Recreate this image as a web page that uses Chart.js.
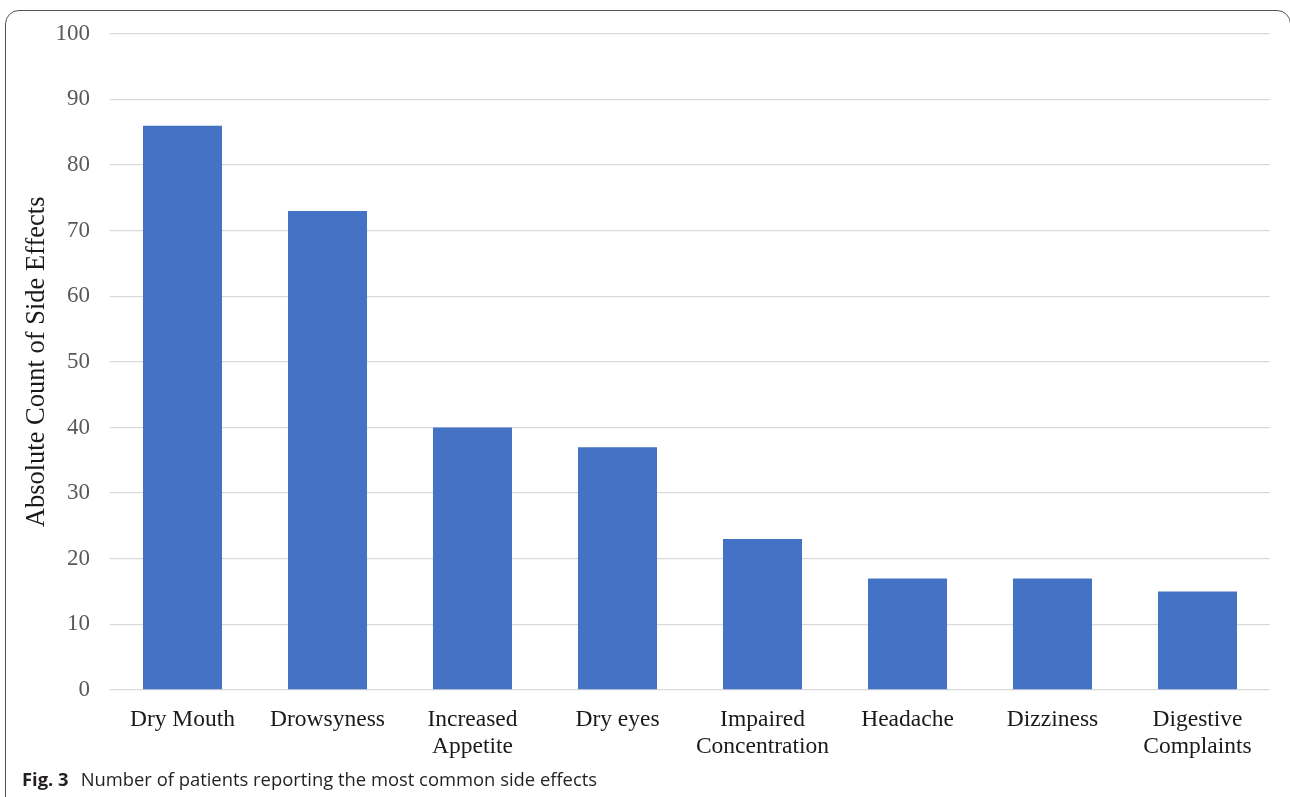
<!DOCTYPE html>
<html>
<head>
<meta charset="utf-8">
<script src="https://cdn.jsdelivr.net/npm/chart.js@4"></script>
<style>
  html, body { margin: 0; padding: 0; background: #fff; overflow: hidden; }
  #page { position: relative; width: 1290px; height: 797px; overflow: hidden; }
  #frame {
    position: absolute; left: 5px; top: 10px; width: 1286px; height: 900px;
    border: 1.5px solid #555; border-radius: 14px; box-sizing: border-box;
  }
  #wrap { position: absolute; left: 0; top: 0; width: 1290px; height: 797px; }
  #caption {
    position: absolute; left: 22px; top: 766px; font-family: "Open Sans", sans-serif;
    font-size: 18.4px; color: #231f20; white-space: nowrap;
  }
  #caption b { font-weight: 700; margin-right: 12px; }
</style>
</head>
<body>
<div id="page">
  <div id="frame"></div>
  <div id="wrap"><canvas id="chart" width="1290" height="797"></canvas></div>
  <div id="caption"><b>Fig. 3</b>Number of patients reporting the most common side effects</div>
</div>
<script>
// Side effects and how many patients reported each
const categories = [
  'Dry Mouth', 'Drowsyness', ['Increased', 'Appetite'], 'Dry eyes',
  ['Impaired', 'Concentration'], 'Headache', 'Dizziness', ['Digestive', 'Complaints']
];
const counts = [86, 73, 40, 37, 23, 17, 17, 15];
const yTicks = [0, 10, 20, 30, 40, 50, 60, 70, 80, 90, 100];
const yTitle = 'Absolute Count of Side Effects';

const serif = '"Liberation Serif", "Times New Roman", serif';

new Chart(document.getElementById('chart'), {
  type: 'bar',
  data: {
    labels: categories,
    datasets: [{
      data: counts,
      backgroundColor: '#4472C4',
      borderWidth: 0,
      barPercentage: 0.545,
      categoryPercentage: 1.0
    }]
  },
  options: {
    responsive: false,
    animation: false,
    layout: { padding: { left: 18, top: 29, right: 20, bottom: 0 } },
    plugins: { legend: { display: false }, tooltip: { enabled: false } },
    scales: {
      x: {
        grid: { display: false, drawTicks: false },
        border: { display: false },
        ticks: {
          color: '#1a1a1a', padding: 16, maxRotation: 0, autoSkip: false,
          font: { family: serif, size: 23.5, lineHeight: 1.15 }
        },
        afterFit(scale) { scale.height = 107; }
      },
      y: {
        min: 0, max: 100,
        afterBuildTicks(scale) { scale.ticks = yTicks.map(v => ({ value: v })); },
        grid: { color: '#d9d9d9', lineWidth: 1.3, drawTicks: false },
        border: { display: false },
        ticks: {
          color: '#595959', padding: 20,
          font: { family: serif, size: 23 }
        },
        title: {
          display: true, text: yTitle, color: '#1a1a1a',
          font: { family: serif, size: 26.5 }, padding: { top: 3, bottom: 4 }
        },
        afterFit(scale) { scale.width = 92; }
      }
    }
  }
});
</script>
</body>
</html>
